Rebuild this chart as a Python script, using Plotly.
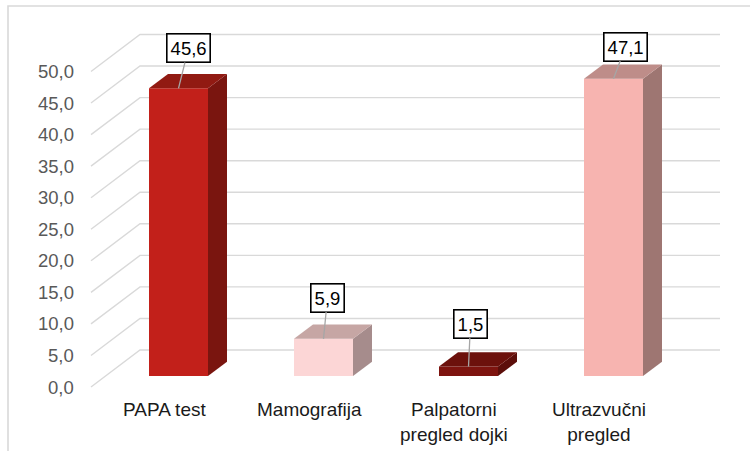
import plotly.graph_objects as go

# ======================
# DATA
# ======================
categories = ["PAPA test", "Mamografija", "Palpatorni<br>pregled dojki", "Ultrazvučni<br>pregled"]
values = [45.6, 5.9, 1.5, 47.1]
tick_values = [0, 5, 10, 15, 20, 25, 30, 35, 40, 45, 50]
tick_labels = ["0,0", "5,0", "10,0", "15,0", "20,0", "25,0", "30,0", "35,0", "40,0", "45,0", "50,0"]

# ======================
# STYLE
# ======================
front_colors = ["#C2201A", "#FCD6D6", "#7E140F", "#F7B4B0"]
side_colors = ["#7A150F", "#A68C8C", "#5C0E0A", "#9E7672"]
top_colors = ["#911A12", "#C6A6A4", "#6C110C", "#BE8D89"]
label_offsets = [(10, -40), (4, -41), (2, -43), (12, -32)]

W, H = 750, 451
PX_PER_CAT = 145.0
PX_PER_UNIT = 6.31
X0_PX, Y0_PX = 164.0, 387.0           # front plane origin (category 0, value 0)
DEPTH_DX = 49.0 / PX_PER_CAT          # full depth offset in data units
DEPTH_DY = 37.0 / PX_PER_UNIT
T_FRONT, T_BACK = 14.5 / 49.0, 33.5 / 49.0
BAR_W = 59.0 / PX_PER_CAT
GRID_L = (91 - X0_PX) / PX_PER_CAT
GRID_R = (720 - X0_PX) / PX_PER_CAT
FONT = "Liberation Sans, Arial, sans-serif"

fig = go.Figure()

# ======================
# 3D GRIDLINES (below the bars)
# ======================
path = ""
for v in tick_values:
    path += (f"M {GRID_L},{v} L {GRID_L + DEPTH_DX},{v + DEPTH_DY} "
             f"L {GRID_R},{v + DEPTH_DY} ")
fig.add_shape(type="path", path=path, xref="x", yref="y", layer="below",
              line=dict(color="#D9D9D9", width=1.4))

# ======================
# BARS (front, side, top)
# ======================
xs = [i + T_FRONT * DEPTH_DX for i in range(len(values))]
base = T_FRONT * DEPTH_DY
fig.add_trace(go.Bar(x=xs, y=values, base=base, width=BAR_W,
                     marker=dict(color=front_colors, line=dict(width=0)),
                     showlegend=False, hoverinfo="skip"))

ddx = (T_BACK - T_FRONT) * DEPTH_DX
ddy = (T_BACK - T_FRONT) * DEPTH_DY
for i, v in enumerate(values):
    xl, xr = xs[i] - BAR_W / 2, xs[i] + BAR_W / 2
    top = base + v
    fig.add_trace(go.Scatter(
        x=[xr, xr + ddx, xr + ddx, xr, xr], y=[base, base + ddy, top + ddy, top, base],
        fill="toself", fillcolor=side_colors[i], mode="lines", line=dict(width=0),
        hoverinfo="skip", showlegend=False))
    fig.add_trace(go.Scatter(
        x=[xl, xl + ddx, xr + ddx, xr, xl], y=[top, top + ddy, top + ddy, top, top],
        fill="toself", fillcolor=top_colors[i], mode="lines", line=dict(width=0),
        hoverinfo="skip", showlegend=False))

    # data label
    fig.add_annotation(
        x=xs[i], y=top, text=f"{v:.1f}".replace(".", ","),
        showarrow=True, arrowhead=0, arrowwidth=1.3, arrowcolor="#A6A6A6",
        ax=label_offsets[i][0], ay=label_offsets[i][1], standoff=0,
        bgcolor="white", bordercolor="black", borderwidth=1.6, borderpad=3,
        font=dict(family=FONT, size=18.5, color="black"))

# ======================
# AXIS LABELS
# ======================
for v, lab in zip(tick_values, tick_labels):
    fig.add_annotation(x=(76 - X0_PX) / PX_PER_CAT, y=v, text=lab, showarrow=False,
                       xanchor="right", yanchor="middle",
                       font=dict(family=FONT, size=18.5, color="#595959"))

for i, cat in enumerate(categories):
    fig.add_annotation(x=i, y=(Y0_PX - 397) / PX_PER_UNIT, text=cat, showarrow=False,
                       xanchor="center", yanchor="top",
                       font=dict(family=FONT, size=19, color="#1A1A1A"))

# chart frame
fig.add_shape(type="rect", xref="paper", yref="paper",
              x0=8 / W, x1=1.05, y0=-0.05, y1=1 - 6 / H,
              line=dict(color="#D9D9D9", width=1.6), fillcolor="rgba(0,0,0,0)")

# ======================
# LAYOUT
# ======================
fig.update_layout(
    width=W, height=H, autosize=False,
    margin=dict(l=0, r=0, t=0, b=0),
    paper_bgcolor="white", plot_bgcolor="white",
    showlegend=False,
)
fig.update_xaxes(range=[(0 - X0_PX) / PX_PER_CAT, (W - X0_PX) / PX_PER_CAT],
                 visible=False, fixedrange=True)
fig.update_yaxes(range=[(Y0_PX - H) / PX_PER_UNIT, Y0_PX / PX_PER_UNIT],
                 visible=False, fixedrange=True)

fig.write_html("out.html", config={"displayModeBar": False},
               post_script="document.body.style.margin='0';")
